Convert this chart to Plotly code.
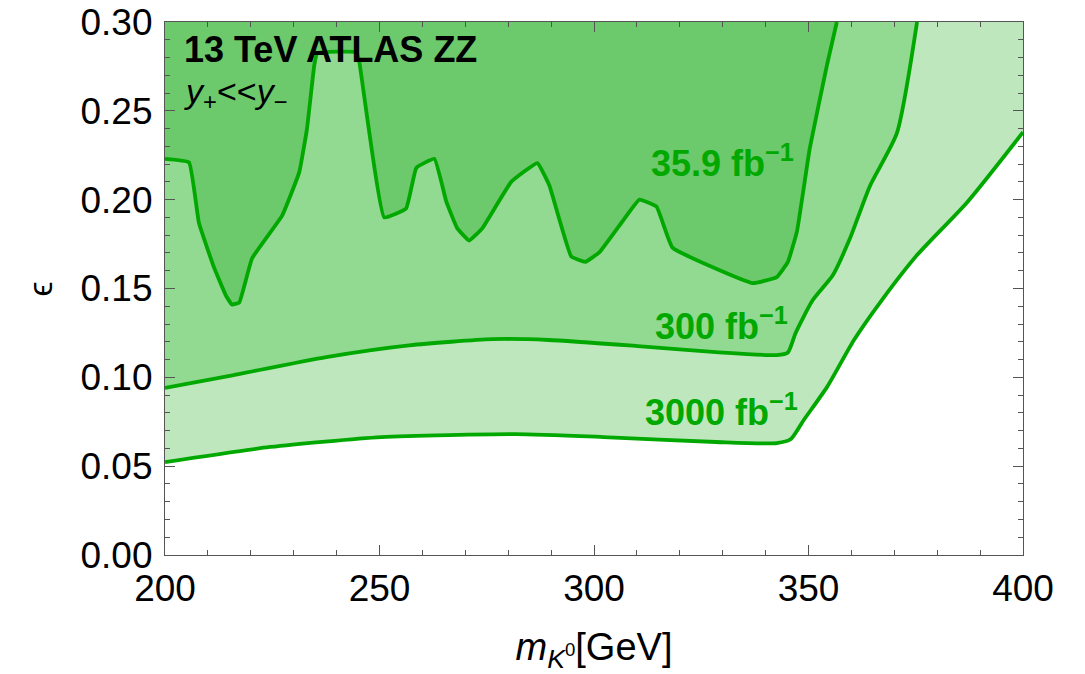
import plotly.graph_objects as go

# 35.9 fb^-1 exclusion boundary
x_359 = [200.0, 205.6, 207.9, 211.4, 214.2, 215.6, 217.3, 220.3, 227.3, 231.3, 233.1, 234.8,
         235.5, 244.6, 245.3, 251.1, 256.2, 258.6, 262.8, 265.6, 268.1, 270.9, 274.0, 280.7,
         286.8, 289.6, 294.7, 298.0, 301.3, 306.4, 310.6, 314.6, 318.3, 337.0, 342.6, 345.2,
         347.3, 350.3, 354.3, 356.6]
y_359 = [0.223, 0.221, 0.187, 0.162, 0.146, 0.141, 0.142, 0.167, 0.191, 0.2155, 0.240, 0.2757,
         0.2825, 0.283, 0.2774, 0.190, 0.195, 0.218, 0.223, 0.1987, 0.184, 0.177, 0.184, 0.210,
         0.2206, 0.208, 0.168, 0.165, 0.1705, 0.187, 0.200, 0.196, 0.173, 0.153, 0.1564, 0.165,
         0.182, 0.229, 0.2757, 0.300]

# 300 fb^-1 projection
x_300 = [200.0, 215.4, 237.6, 256.9, 276.3, 289.4, 310.2, 328.4, 342.6, 345.2, 347.0, 351.0,
         355.7, 359.6, 364.3, 370.6, 375.3]
y_300 = [0.094, 0.101, 0.1114, 0.118, 0.1215, 0.121, 0.1176, 0.1142, 0.1125, 0.114, 0.125,
         0.1435, 0.1576, 0.1778, 0.2076, 0.2374, 0.300]

# 3000 fb^-1 projection
x_3000 = [200.0, 224.5, 250.4, 281.7, 302.2, 328.4, 342.6, 345.9, 348.9, 354.3, 360.6, 367.1,
          375.3, 387.0, 400.0]
y_3000 = [0.0523, 0.0608, 0.0664, 0.068, 0.0664, 0.0636, 0.063, 0.0653, 0.076, 0.0945, 0.121,
          0.1435, 0.1688, 0.1986, 0.238]

x_ticks = [200, 250, 300, 350, 400]
y_ticks = [0.00, 0.05, 0.10, 0.15, 0.20, 0.25, 0.30]

line_col = "rgb(0,168,0)"
fills = {"3000": "rgb(190,231,190)", "300": "rgb(146,217,146)", "35.9": "rgb(108,201,108)"}

fig = go.Figure()

def region(xs, ys, fill):
    px = list(xs) + ([400.0] if ys[-1] < 0.3 else []) + [200.0]
    py = list(ys) + ([0.3] if ys[-1] < 0.3 else []) + [0.3]
    fig.add_trace(go.Scatter(x=px, y=py, fill="toself", fillcolor=fill, mode="none",
                             hoverinfo="skip", showlegend=False))

region(x_3000, y_3000, fills["3000"])
region(x_300, y_300, fills["300"])
region(x_359, y_359, fills["35.9"])

for xs, ys, sm in [(x_3000, y_3000, 0.6), (x_300, y_300, 0.6), (x_359, y_359, 0.3)]:
    fig.add_trace(go.Scatter(x=xs, y=ys, mode="lines",
                             line=dict(color=line_col, width=3.8, shape="spline", smoothing=sm),
                             hoverinfo="skip", showlegend=False))

font_main = "Liberation Sans, Arial, sans-serif"
lab_font = dict(family=font_main, size=36, color=line_col)

fig.add_annotation(x=0.02, y=0.99, xref="paper", yref="paper", xanchor="left", yanchor="top",
                   text="<b>13 TeV ATLAS ZZ</b>", showarrow=False,
                   font=dict(family=font_main, size=36, color="black"))
fig.add_annotation(x=0.02, y=0.91, xref="paper", yref="paper", xanchor="left", yanchor="top",
                   text="<i>y</i><sub>+</sub>&lt;&lt;<i>y</i><sub>−</sub>", showarrow=False,
                   font=dict(family=font_main, size=34, color="black"))
fig.add_annotation(x=347, y=0.222, xanchor="right", yanchor="middle",
                   text="<b>35.9 fb<sup>−1</sup></b>", showarrow=False, font=lab_font)
fig.add_annotation(x=345.8, y=0.130, xanchor="right", yanchor="middle",
                   text="<b>300 fb<sup>−1</sup></b>", showarrow=False, font=lab_font)
fig.add_annotation(x=348, y=0.0815, xanchor="right", yanchor="middle",
                   text="<b>3000 fb<sup>−1</sup></b>", showarrow=False, font=lab_font)
# y-axis title
fig.add_annotation(x=-0.1457, y=0.50, xref="paper", yref="paper", xanchor="center",
                   yanchor="middle", text="ϵ", textangle=-90, showarrow=False,
                   font=dict(family=font_main, size=34, color="black"))

axis_common = dict(showgrid=False, zeroline=False, showline=True, linecolor="#555",
                   linewidth=1.2, mirror="ticks", ticks="inside", ticklen=10, tickcolor="#555",
                   automargin=False, ticklabeloverflow="allow",
                   tickfont=dict(family=font_main, size=37, color="black"))

fig.update_xaxes(range=[200, 400], tickvals=x_ticks,
                 minor=dict(dtick=10, ticks="inside", ticklen=5, tickcolor="#555"),
                 ticklabelstandoff=0,
                 title=dict(text="<i>m</i><sub><i>K</i><sup>0</sup></sub>[GeV]",
                            font=dict(family=font_main, size=38, color="black"), standoff=25),
                 **axis_common)
fig.update_yaxes(range=[0, 0.30], tickvals=y_ticks, tickformat=".2f",
                 minor=dict(dtick=0.01, ticks="inside", ticklen=5, tickcolor="#555"),
                 ticklabelstandoff=4,
                 **axis_common)

# page body adds an 8px offset, margins compensate so the frame lands at 165..1023 x 22..555
fig.update_layout(width=1085, height=674, margin=dict(l=157, r=70, t=14, b=127),
                  plot_bgcolor="white", paper_bgcolor="white")

fig.write_html("out.html")
